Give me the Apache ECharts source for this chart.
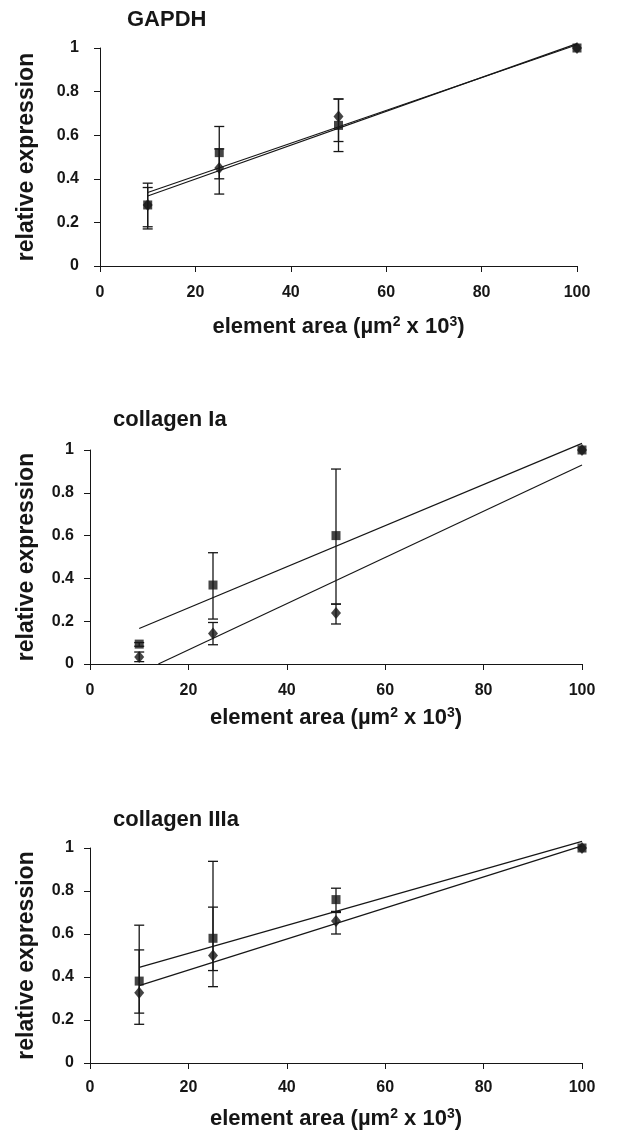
<!DOCTYPE html>
<html>
<head>
<meta charset="utf-8">
<script src="https://cdn.jsdelivr.net/npm/echarts@6/dist/echarts.min.js"></script>
<style>
  html, body { margin: 0; padding: 0; background: #fff; }
  #chart { width: 635px; height: 1131px; }
</style>
</head>
<body>
<div id="chart"></div>
<script>
// x positions (element area, µm² x 10³)
const areas = [10, 25, 50, 100];
const fitX = [10, 100];

// GAPDH
const gapdhSq = [0.28, 0.52, 0.645, 1.0];
const gapdhSqLo = [0.17, 0.40, 0.525, null];
const gapdhSqHi = [0.38, 0.64, 0.766, null];
const gapdhDi = [0.28, 0.45, 0.686, 1.0];
const gapdhDiLo = [0.18, 0.33, 0.571, null];
const gapdhDiHi = [0.36, 0.537, 0.766, null];
const gapdhSqFit = [0.337, 1.015];
const gapdhDiFit = [0.321, 1.02];

// collagen Ia
const colISq = [0.093, 0.369, 0.60, 1.0];
const colISqLo = [0.083, 0.21, 0.28, null];
const colISqHi = [0.10, 0.52, 0.911, null];
const colIDi = [0.033, 0.142, 0.238, 1.0];
const colIDiLo = [0.011, 0.09, 0.187, null];
const colIDiHi = [0.056, 0.194, 0.28, null];
const colISqFit = [0.166, 1.031];
const colIDiFitX = [13.9, 100];   // the line meets the x axis here
const colIDiFit = [0, 0.93];

// collagen IIIa
const colIIISq = [0.381, 0.58, 0.76, 1.0];
const colIIISqLo = [0.18, 0.355, 0.705, null];
const colIIISqHi = [0.641, 0.938, 0.813, null];
const colIIIDi = [0.327, 0.50, 0.661, 1.0];
const colIIIDiLo = [0.232, 0.43, 0.60, null];
const colIIIDiHi = [0.526, 0.725, 0.70, null];
const colIIISqFit = [0.445, 1.031];
const colIIIDiFit = [0.36, 1.01];

const titles = ['GAPDH', 'collagen Ia', 'collagen IIIa'];
const yTicks = { min: 0, max: 1, interval: 0.2 };
const xTicks = { min: 0, max: 100, interval: 20 };

const ink = '#161616';
const font = '"Liberation Sans", Arial, sans-serif';

const panels = [
  { sq: gapdhSq, sqLo: gapdhSqLo, sqHi: gapdhSqHi, di: gapdhDi, diLo: gapdhDiLo, diHi: gapdhDiHi,
    sqFitX: fitX, sqFit: gapdhSqFit, diFitX: fitX, diFit: gapdhDiFit },
  { sq: colISq, sqLo: colISqLo, sqHi: colISqHi, di: colIDi, diLo: colIDiLo, diHi: colIDiHi,
    sqFitX: fitX, sqFit: colISqFit, diFitX: colIDiFitX, diFit: colIDiFit },
  { sq: colIIISq, sqLo: colIIISqLo, sqHi: colIIISqHi, di: colIIIDi, diLo: colIIIDiLo, diHi: colIIIDiHi,
    sqFitX: fitX, sqFit: colIIISqFit, diFitX: fitX, diFit: colIIIDiFit }
];

// layout per panel
const grids = [
  { left: 100, top: 48, width: 477, height: 218 },
  { left: 90, top: 450, width: 492, height: 214 },
  { left: 90, top: 848, width: 492, height: 215 }
];
const titlePos = [[127, 9], [113, 409], [113, 809]];
const yNameGap = [62, 52, 52];
const yLabelMargin = [21, 16, 16];
const xLabelMargin = [19, 19, 17];
const xNameGap = [49, 42, 44];

function errItems(lo, hi) {
  const out = [];
  areas.forEach((x, i) => {
    if (lo[i] != null && hi[i] != null) out.push([x, lo[i], hi[i]]);
  });
  return out;
}

function renderErr(params, api) {
  const x = api.value(0);
  const lo = api.coord([x, api.value(1)]);
  const hi = api.coord([x, api.value(2)]);
  const cap = 5;
  const style = { stroke: ink, lineWidth: 1.3 };
  return {
    type: 'group',
    children: [
      { type: 'line', shape: { x1: lo[0], y1: lo[1], x2: hi[0], y2: hi[1] }, style: style },
      { type: 'line', shape: { x1: lo[0] - cap, y1: lo[1], x2: lo[0] + cap, y2: lo[1] }, style: style },
      { type: 'line', shape: { x1: hi[0] - cap, y1: hi[1], x2: hi[0] + cap, y2: hi[1] }, style: style }
    ]
  };
}

const option = {
  animation: false,
  backgroundColor: '#fff',
  textStyle: { fontFamily: font },
  title: titles.map((t, i) => ({
    text: t,
    left: titlePos[i][0],
    top: titlePos[i][1],
    padding: 0,
    textStyle: { fontFamily: font, fontSize: 22, fontWeight: 'bold', color: ink }
  })),
  grid: grids,
  xAxis: grids.map((g, i) => ({
    type: 'value',
    gridIndex: i,
    min: xTicks.min,
    max: xTicks.max,
    interval: xTicks.interval,
    name: 'element area (µm{sup|2} x 10{sup|3})',
    nameLocation: 'middle',
    nameGap: xNameGap[i],
    nameTextStyle: {
      fontFamily: font, fontSize: 22, fontWeight: 'bold', color: ink,
      rich: { sup: { fontFamily: font, fontSize: 14, fontWeight: 'bold', color: ink, verticalAlign: 'top', padding: [0, 0, 9, 0] } }
    },
    axisLine: { lineStyle: { color: ink, width: 1 } },
    axisTick: { show: true, length: 6, lineStyle: { color: ink } },
    axisLabel: { fontFamily: font, fontSize: 16, fontWeight: 'bold', color: ink, margin: xLabelMargin[i] },
    splitLine: { show: false }
  })),
  yAxis: grids.map((g, i) => ({
    type: 'value',
    gridIndex: i,
    min: yTicks.min,
    max: yTicks.max,
    interval: yTicks.interval,
    name: 'relative expression',
    nameLocation: 'middle',
    nameGap: yNameGap[i],
    nameTextStyle: { fontFamily: font, fontSize: 23, fontWeight: 'bold', color: ink },
    axisLine: { show: true, lineStyle: { color: ink, width: 1 } },
    axisTick: { show: true, length: 6, lineStyle: { color: ink } },
    axisLabel: { fontFamily: font, fontSize: 16, fontWeight: 'bold', color: ink, margin: yLabelMargin[i] },
    splitLine: { show: false }
  })),
  series: []
};

panels.forEach((p, i) => {
  // trend lines (they run slightly past y = 1, as in the original)
  [[p.sqFitX, p.sqFit], [p.diFitX, p.diFit]].forEach(([xs, ys]) => {
    option.series.push({
      type: 'line',
      xAxisIndex: i, yAxisIndex: i,
      data: xs.map((x, k) => [x, ys[k]]),
      symbol: 'none',
      clip: false,
      lineStyle: { color: ink, width: 1.2 },
      z: 2
    });
  });
  // error bars
  option.series.push({
    type: 'custom',
    xAxisIndex: i, yAxisIndex: i,
    data: errItems(p.sqLo, p.sqHi).concat(errItems(p.diLo, p.diHi)),
    renderItem: renderErr,
    z: 3
  });
  // markers
  option.series.push({
    type: 'scatter',
    xAxisIndex: i, yAxisIndex: i,
    data: areas.map((x, k) => [x, p.sq[k]]),
    symbol: 'rect',
    symbolSize: 9,
    itemStyle: { color: ink },
    z: 4
  });
  option.series.push({
    type: 'scatter',
    xAxisIndex: i, yAxisIndex: i,
    data: areas.map((x, k) => [x, p.di[k]]),
    symbol: 'diamond',
    symbolSize: [10, 12],
    itemStyle: { color: ink },
    z: 5
  });
});

const chart = echarts.init(document.getElementById('chart'), null, { renderer: 'canvas' });
chart.setOption(option);
</script>
</body>
</html>
